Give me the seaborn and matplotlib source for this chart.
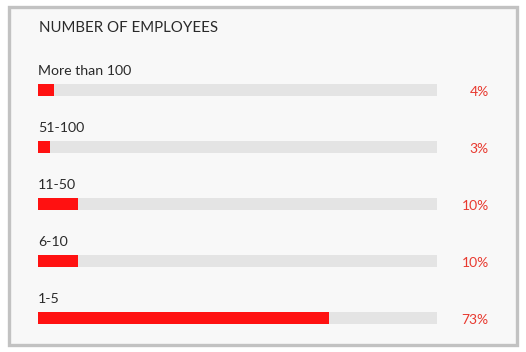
import matplotlib
matplotlib.use("Agg")
import matplotlib.pyplot as plt
import seaborn as sns
import pandas as pd
from matplotlib.patches import Rectangle

categories = ["More than 100", "51-100", "11-50", "6-10", "1-5"]
values = [4, 3, 10, 10, 73]
value_labels = ["4%", "3%", "10%", "10%", "73%"]
track_max = [100, 100, 100, 100, 100]
title = "NUMBER OF EMPLOYEES"

sns.set_theme(style="white")
plt.rcParams['font.family'] = ['Lato', 'DejaVu Sans']

W, H = 526, 352
fig = plt.figure(figsize=(W / 100, H / 100), dpi=100)
fig.patch.set_facecolor("white")

# panel frame
fig.patches.append(Rectangle((9 / W, 1 - 345 / H), 508 / W, 338 / H,
                             transform=fig.transFigure, facecolor="#f8f8f8",
                             edgecolor="#c2c2c2", linewidth=2.4, zorder=-5))

ax = fig.add_axes([38 / W, 12 / H, 399 / W, 300 / H])
ax.set_facecolor("none")
ax.set_zorder(2)

df = pd.DataFrame({"cat": categories, "val": values, "track": track_max})
sns.barplot(data=df, x="track", y="cat", orient="h", color="#e4e4e4",
            width=0.21, ax=ax, saturation=1, linewidth=0)
sns.barplot(data=df, x="val", y="cat", orient="h", color="#ff1111",
            width=0.21, ax=ax, saturation=1, linewidth=0)

ax.set_xlim(0, 100)
ax.set_ylim(4.386, -0.877)
ax.axis("off")

for i, (c, lab) in enumerate(zip(categories, value_labels)):
    ax.text(0, i - 0.34, c, ha="left", va="center", fontsize=10.2,
            color="#2a2a2a")
    ax.text(113.0, i + 0.03, lab, ha="right", va="center", fontsize=10,
            color="#e8392f", clip_on=False)

fig.text(39 / W, 1 - 28 / H, title, ha="left", va="center", fontsize=10.8,
         color="#2a2a2a", zorder=3)

fig.savefig("out.png", dpi=100, facecolor="white")
